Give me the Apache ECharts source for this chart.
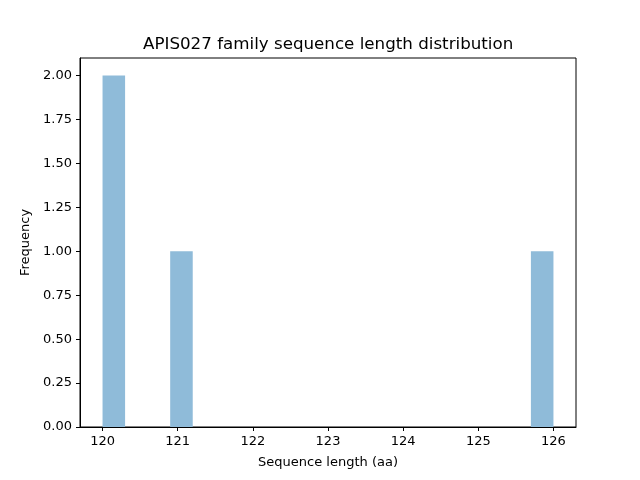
<!DOCTYPE html>
<html>
<head>
    <meta charset="utf-8">
    <title>ECharts</title>
    <script src="https://cdn.jsdelivr.net/npm/echarts@6/dist/echarts.min.js"></script>
    <style>body { margin: 0; }</style>
</head>
<body>
    <div id="main" style="width: 640px;height:480px;"></div>
    <script type="text/javascript">
        // histogram bins (20 bins over 120..126), only non-empty ones
        var binStart = [120.0, 120.9, 125.7];
        var binEnd = [120.3, 121.2, 126.0];
        var counts = [2, 1, 1];
        var xTicks = [120, 121, 122, 123, 124, 125, 126];
        var yTicks = [0, 0.25, 0.5, 0.75, 1.0, 1.25, 1.5, 1.75, 2.0];

        var data = binStart.map(function (s, i) {
            return [s, binEnd[i], counts[i]];
        });

        var myChart = echarts.init(document.getElementById('main'));
        var font = 'DejaVu Sans';
        option = {
            animation: false,
            backgroundColor: '#ffffff',
            title: {
                text: 'APIS027 family sequence length distribution',
                left: 138,
                top: 31,
                textStyle: { fontFamily: font, fontSize: 16.7, fontWeight: 'normal', color: '#000' }
            },
            grid: {
                left: 80, right: 64, top: 58, bottom: 53,
                show: true, borderColor: '#000', borderWidth: 1, backgroundColor: 'transparent'
            },
            xAxis: {
                type: 'value',
                min: 119.7,
                max: 126.3,
                name: 'Sequence length (aa)',
                nameLocation: 'middle',
                nameGap: 29,
                nameTextStyle: { fontFamily: font, fontSize: 13, color: '#000' },
                axisLine: { onZero: false, lineStyle: { color: '#000' } },
                axisTick: { show: true, length: 4, inside: false, customValues: xTicks, lineStyle: { color: '#000' } },
                axisLabel: { customValues: xTicks, fontFamily: font, fontSize: 13, color: '#000', margin: 8 },
                splitLine: { show: false }
            },
            yAxis: {
                type: 'value',
                min: 0,
                max: 2.1,
                name: 'Frequency',
                nameLocation: 'middle',
                nameGap: 47,
                nameTextStyle: { fontFamily: font, fontSize: 13, color: '#000' },
                axisLine: { show: true, lineStyle: { color: '#000' } },
                axisTick: { show: true, length: 4, customValues: yTicks, lineStyle: { color: '#000' } },
                axisLabel: {
                    customValues: yTicks, fontFamily: font, fontSize: 13, color: '#000', margin: 8,
                    formatter: function (v) { return v.toFixed(2); }
                },
                splitLine: { show: false }
            },
            series: [{
                type: 'custom',
                data: data,
                encode: { x: [0, 1], y: 2 },
                renderItem: function (params, api) {
                    var p0 = api.coord([api.value(0), api.value(2)]);
                    var p1 = api.coord([api.value(1), 0]);
                    return {
                        type: 'rect',
                        shape: { x: p0[0], y: p0[1], width: p1[0] - p0[0], height: p1[1] - p0[1] },
                        style: { fill: '#8fbbd9', stroke: null, lineWidth: 0 }
                    };
                }
            }]
        };

        myChart.setOption(option);
    </script>
</body>
</html>
